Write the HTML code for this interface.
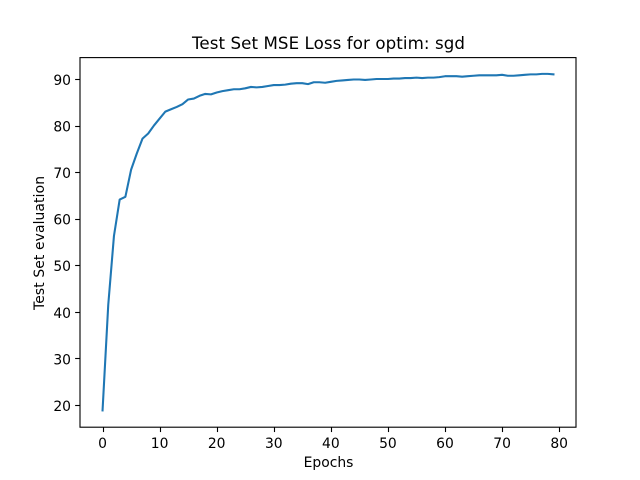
<!DOCTYPE html>
<html>
<head>
<meta charset="utf-8">
<title>Test Set MSE Loss for optim: sgd</title>
<style>
  html, body { margin: 0; padding: 0; background: #fff; }
  svg { display: block; font-family: "DejaVu Sans", "Liberation Sans", sans-serif; }
</style>
</head>
<body>
<svg id="chart" width="640" height="480" viewBox="0 0 640 480" xmlns="http://www.w3.org/2000/svg">
  <rect x="0" y="0" width="640" height="480" fill="#ffffff"/>
  <text x="328.5" y="49" font-size="16.67" text-anchor="middle" textLength="273" lengthAdjust="spacing" fill="#000">Test Set MSE Loss for optim: sgd</text>
  <text x="328.5" y="467" font-size="13.89" text-anchor="middle" fill="#000">Epochs</text>
  <text transform="translate(44,243) rotate(-90)" font-size="13.89" text-anchor="middle" textLength="134" lengthAdjust="spacing" fill="#000">Test Set evaluation</text>
  <g id="ticks"></g>
  <polyline id="line" fill="none" stroke="#1f77b4" stroke-width="2.08" stroke-linejoin="round" stroke-linecap="square"></polyline>
  <rect x="80" y="57.6" width="496" height="369.6" fill="none" stroke="#000" stroke-width="1.11"/>
</svg>
<script>
const xTicks = [0, 10, 20, 30, 40, 50, 60, 70, 80];
const yTicks = [20, 30, 40, 50, 60, 70, 80, 90];
const lossValues = [
  18.8, 41.5, 56.3, 64.1, 64.7, 70.5, 74.0, 77.2, 78.3, 80.0,
  81.5, 83.0, 83.5, 84.0, 84.6, 85.6, 85.8, 86.4, 86.8, 86.7,
  87.1, 87.4, 87.6, 87.8, 87.8, 88.0, 88.3, 88.2, 88.3, 88.5,
  88.7, 88.7, 88.8, 89.0, 89.1, 89.1, 88.9, 89.3, 89.3, 89.2,
  89.4, 89.6, 89.7, 89.8, 89.9, 89.9, 89.8, 89.9, 90.0, 90.0,
  90.0, 90.1, 90.1, 90.2, 90.2, 90.3, 90.2, 90.3, 90.3, 90.4,
  90.6, 90.6, 90.6, 90.5, 90.6, 90.7, 90.8, 90.8, 90.8, 90.8,
  90.9, 90.7, 90.7, 90.8, 90.9, 91.0, 91.0, 91.1, 91.1, 91.0
];

const plotLeft = 80, plotRight = 576, plotTop = 57.6, plotBottom = 427.2;
const xMin = -3.95, xMax = 82.95, yMin = 15.2, yMax = 94.6;
function xScale(v) { return plotLeft + (v - xMin) / (xMax - xMin) * (plotRight - plotLeft); }
function yScale(v) { return plotBottom - (v - yMin) / (yMax - yMin) * (plotBottom - plotTop); }

const svgNS = 'http://www.w3.org/2000/svg';
const tickGroup = document.getElementById('ticks');
function addTick(x1, y1, x2, y2) {
  const t = document.createElementNS(svgNS, 'line');
  
  
  t.setAttribute('x1', x1);
  t.setAttribute('y1', y1);
  t.setAttribute('x2', x2);
  t.setAttribute('y2', y2);
  t.setAttribute('stroke', '#000');
  t.setAttribute('stroke-width', '1.11');
  tickGroup.appendChild(t);
}
function addLabel(x, y, anchor, str) {
  const l = document.createElementNS(svgNS, 'text');
  
  
  l.setAttribute('x', x);
  l.setAttribute('y', y);
  l.setAttribute('text-anchor', anchor);
  l.setAttribute('font-size', '13.89');
  l.setAttribute('fill', '#000');
  l.textContent = str;
  tickGroup.appendChild(l);
}
xTicks.forEach(function (v) {
  const x = Math.round(xScale(v)) + 0.5;
  addTick(x, plotBottom, x, plotBottom + 4.86);
  addLabel(xScale(v), 448, 'middle', String(v));
});
yTicks.forEach(function (v) {
  const y = Math.round(yScale(v)) + 0.5;
  addTick(plotLeft, y, plotLeft - 4.86, y);
  addLabel(plotLeft - 9, yScale(v) + 6, 'end', String(v));
});
document.getElementById('line').setAttribute('points', lossValues.map(function (v, i) {
  return xScale(i).toFixed(2) + ',' + yScale(v).toFixed(2);
}).join(' '));
</script>
</body>
</html>
